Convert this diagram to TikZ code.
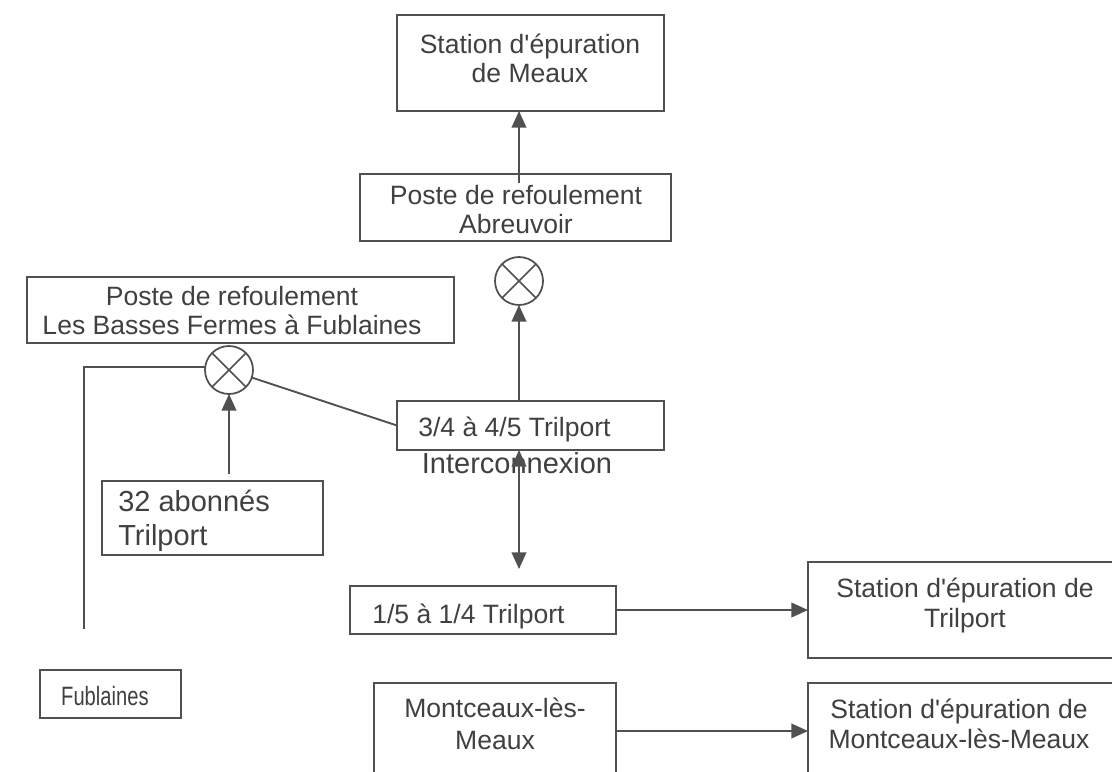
\documentclass[tikz,border=0pt]{standalone}
\usepackage{fontspec}
\setmainfont{Liberation Sans}[Ligatures=TeXOff]
\usetikzlibrary{arrows.meta,calc}
\definecolor{lc}{HTML}{505050}
\definecolor{tc}{HTML}{404040}
\tikzset{
 box/.style={draw=lc, line width=1.4pt, rectangle, inner sep=0pt, outer sep=0pt},
 valve/.style={draw=lc, line width=1.3pt, circle, minimum size=36pt, inner sep=0pt, outer sep=0pt,
   path picture={\draw[lc, line width=1.3pt] (path picture bounding box.north west) -- (path picture bounding box.south east)
     (path picture bounding box.north east) -- (path picture bounding box.south west);}},
 lbl/.style={text=tc, font=\fontsize{19.9}{22}\selectfont, inner sep=0pt, anchor=base},
 lblb/.style={lbl, font=\fontsize{21.75}{24}\selectfont},
 lbls/.style={lbl, xscale=0.76},
 lblL/.style={lbl, anchor=base west},
 lblbL/.style={lblb, anchor=base west},
 conn/.style={draw=lc, line width=1.4pt},
 arr/.style={conn, -{Triangle[length=12.5pt,width=11pt]}},
 darr/.style={conn, {Triangle[length=12.5pt,width=11pt]}-{Triangle[length=12.5pt,width=11pt]}},
}
\newcommand\boxnode[5]{\node[box, minimum width={(#4-#2)*0.75pt}, minimum height={(#5-#3)*0.75pt}] (#1) at ({(#2+#4)/2},{(#3+#5)/2}) {};}
\begin{document}
\begin{tikzpicture}[x=0.75pt,y=-0.75pt]
\useasboundingbox (0,0) rectangle (1112,771);
\clip (0,0) rectangle (1112,771);
\fill[white] (0,0) rectangle (1112,771);
% boxes
\boxnode{meaux}{397}{15}{664}{111}
\boxnode{abreu}{360}{174}{671}{241}
\boxnode{bf}{27}{277}{454}{343}
\boxnode{b34}{397}{401}{664}{450}
\boxnode{ab32}{102}{481}{323}{555}
\boxnode{b15}{350}{586}{616}{634}
\boxnode{sttril}{808}{562}{1120}{658}
\boxnode{fub}{40}{670}{181}{718}
\boxnode{mont}{374}{683}{616}{779}
\boxnode{stmlm}{808}{683}{1120}{779}
% valves
\node[valve] (cA) at (519,281) {};
\node[valve] (cBF) at (229,370) {};
% free ends
\coordinate (fubEnd) at (84,629);
\coordinate (icEnd) at (519,569);
% texts
\node[lbl] (tm1) at (530,53) {Station d'épuration};
\node[lbl] (tm2) at (530,82) {de Meaux};
\node[lbl] (ta1) at (516,204) {Poste de refoulement};
\node[lbl] (ta2) at (516,233) {Abreuvoir};
\node[lbl] (tb1) at (232,305) {Poste de refoulement};
\node[lbl] (tb2) at (232,334) {Les Basses Fermes à Fublaines};
\node[lblbL] (t321) at (118,511) {32 abonnés};
\node[lblbL] (t322) at (118,545) {Trilport};
\node[lblL] (t34) at (418,436) {3/4 à 4/5 Trilport};
\node[lblb] (tic) at (517,473) {Interconnexion};
\node[lblL] (t15) at (372,623) {1/5 à 1/4 Trilport};
\node[lbl] (tst1) at (965,597) {Station d'épuration de};
\node[lbl] (tst2) at (965,627) {Trilport};
\node[lbls, anchor=base west] (tfub) at (61,705) {Fublaines};
\node[lbl] (tmo1) at (495,717) {Montceaux-lès-};
\node[lbl] (tmo2) at (495,749) {Meaux};
\node[lbl] (tsm1) at (959,718) {Station d'épuration de};
\node[lbl] (tsm2) at (959,748) {Montceaux-lès-Meaux};
% connectors
\draw[arr] ($(abreu.north -| cA)+(0,9)$) -- (meaux.south -| cA);
\draw[arr] (b34.north -| cA) -- (cA.south);
\draw[conn] ($(cBF.west)+(0,-3)$) -| (fubEnd);
\draw[conn] (cBF) -- (b34.west);
\draw[arr] ($(ab32.north -| cBF)+(0,-7)$) -- (cBF.south);
\draw[darr] (b34.south -| cA) -- (icEnd);
\draw[arr] (b15.east) -- (sttril.west);
\draw[arr] (mont.east) -- (stmlm.west);
\end{tikzpicture}
\end{document}
